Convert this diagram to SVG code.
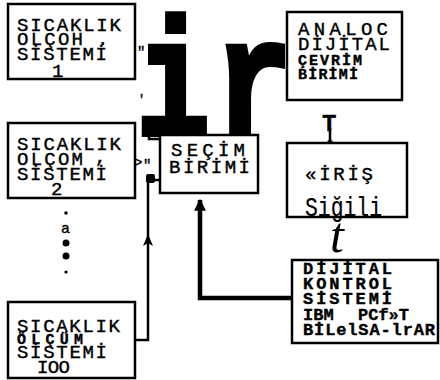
<svg xmlns="http://www.w3.org/2000/svg" width="440" height="380" viewBox="0 0 440 380">
<defs>
<style>
.box{fill:#fff;stroke:#000;stroke-width:2.5}
.t{font-family:"Liberation Mono","DejaVu Sans Mono",monospace;font-size:19px;fill:#000;stroke:#000;stroke-width:0.4}
.b{font-weight:bold}
.big{font-family:"Liberation Mono","DejaVu Sans Mono",monospace;font-weight:bold;font-size:110px;fill:#000;stroke:#000;stroke-width:4}
.ln{fill:none;stroke:#000;stroke-width:2.5}
.thick{fill:none;stroke:#000;stroke-width:4.5}
</style>
<marker id="ah" viewBox="0 0 10 10" refX="9" refY="5" markerWidth="12" markerHeight="12" markerUnits="userSpaceOnUse" orient="auto">
<path d="M0,0 L10,5 L0,10 Z" fill="#000"/>
</marker>
</defs>
<rect width="440" height="380" fill="#fff"/>

<g id="big-ir">
<text class="big" transform="translate(137,134) scale(1.1,1.5)" x="0" y="0">i</text>
<text class="big" transform="translate(216,134) scale(1.15,1.5)" x="0" y="0">r</text>
</g>

<g id="connectors">
<path class="thick" d="M292,298 H200 V200" marker-end="url(#ah)"/>
<path class="ln" d="M136,340 H148 V180 H160"/>
<polygon points="148,234 143,246 148,243 153,246" fill="#000"/>
<rect x="146" y="174" width="9" height="9" rx="2" fill="#000"/>
<path class="ln" d="M149,131 V139 H160" stroke-width="2"/>
<line class="ln" x1="330" y1="128" x2="330" y2="143"/>
<circle cx="330" cy="143" r="3" fill="#000"/>
<text x="322" y="131" class="t b" style="font-size:24px">T</text>
<text x="330" y="252" style="font-family:'Liberation Serif',serif;font-style:italic;font-size:50px">t</text>
<text x="134" y="167" class="t" style="font-size:14px">&gt;</text>
<text x="143" y="170" class="t" style="font-size:14px">"</text>
<text x="137" y="57" class="t" style="font-size:14px">"</text>
<text x="138" y="103" class="t" style="font-size:12px">'</text>
</g>

<g id="sicaklik-1">
<rect class="box" x="8" y="4" width="127" height="75"/>
<text class="t" x="17" y="31" textLength="104">SICAKLIK</text>
<text class="t" x="17" y="45" textLength="66">OLÇOH</text>
<text class="t" x="97" y="45">.</text>
<text class="t" x="17" y="60" textLength="90">SİSTEMİ</text>
<text class="t" x="52" y="77">1</text>
</g>

<g id="sicaklik-2">
<rect class="box" x="8" y="123" width="127" height="75"/>
<text class="t" x="17" y="150" textLength="104">SICAKLIK</text>
<text class="t" x="17" y="165" textLength="66">OLÇOM</text>
<text class="t" x="95" y="163">,</text>
<text class="t" x="17" y="180" textLength="90">SİSTEMİ</text>
<text class="t" x="51" y="195">2</text>
</g>

<g id="dots">
<circle cx="66" cy="213" r="1.8" fill="#000"/>
<text class="t" x="61" y="233" style="font-size:15px">a</text>
<circle cx="66" cy="243" r="3.5" fill="#000"/>
<circle cx="66" cy="256" r="3.5" fill="#000"/>
<circle cx="66" cy="272" r="1.6" fill="#000"/>
</g>

<g id="sicaklik-100">
<rect class="box" x="8" y="302" width="127" height="76"/>
<text class="t" x="17" y="332" textLength="103">SICAKLIK</text>
<text class="t b" x="17" y="344" textLength="66" style="font-size:15px">ÖLÇÜM</text>
<text class="t" x="17" y="358" textLength="90">SİSTEMİ</text>
<text class="t" x="37" y="373" textLength="33">IOO</text>
</g>

<g id="secim">
<rect class="box" x="160" y="135" width="98" height="58"/>
<text class="t" x="171" y="156" textLength="74">SEÇİM</text>
<text class="t" x="169" y="173" textLength="81">BİRİMİ</text>
</g>

<g id="analoc">
<rect class="box" x="287" y="12" width="115" height="88"/>
<text class="t" x="298" y="35" textLength="90">ANALOC</text>
<text class="t" x="298" y="50" textLength="92">DİJİTAL</text>
<text class="t b" x="298" y="65" textLength="64" style="font-size:15px">ÇEVRİM</text>
<text class="t b" x="298" y="79" textLength="60" style="font-size:15px">BİRİMİ</text>
</g>

<g id="giris">
<rect class="box" x="287" y="143" width="120" height="74"/>
<text class="t" x="305" y="180" textLength="68">«İRİŞ</text>
<text class="t" x="305" y="216" textLength="77" lengthAdjust="spacingAndGlyphs" style="font-size:28px;stroke-width:0.2">Siğili</text>
</g>

<g id="dijital">
<rect class="box" x="292" y="260" width="146" height="83"/>
<text class="t b" x="303" y="274" textLength="89" style="font-size:17px">DİJİTAL</text>
<text class="t b" x="303" y="289" textLength="89" style="font-size:17px">KONTROL</text>
<text class="t b" x="303" y="304" textLength="89" style="font-size:17px">SİSTEMİ</text>
<text class="t b" y="320" style="font-size:17px"><tspan x="303">IBM</tspan><tspan x="358">PCf»T</tspan></text>
<text class="t b" x="303" y="335" textLength="132" style="font-size:17px">BİLelSA-lrAR</text>
</g>
</svg>
